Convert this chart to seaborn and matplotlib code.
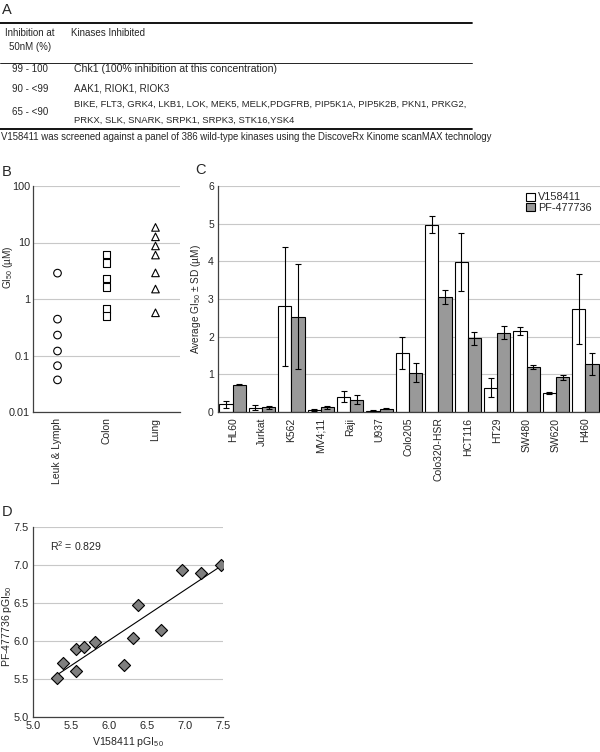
import matplotlib
matplotlib.use("Agg")
import matplotlib.pyplot as plt
import numpy as np
import pandas as pd
import seaborn as sns

# ---- Panel A: kinase selectivity table ----
table_header = ["Inhibition at\n50nM (%)", "Kinases Inhibited"]
inhibition_ranges = ["99 - 100", "90 - <99", "65 - <90"]
kinases_inhibited = [
    ["Chk1 (100% inhibition at this concentration)"],
    ["AAK1, RIOK1, RIOK3"],
    ["BIKE, FLT3, GRK4, LKB1, LOK, MEK5, MELK,PDGFRB, PIP5K1A, PIP5K2B, PKN1, PRKG2,",
     "PRKX, SLK, SNARK, SRPK1, SRPK3, STK16,YSK4"],
]
table_footer = "V158411 was screened against a panel of 386 wild-type kinases using the DiscoveRx Kinome scanMAX technology"

# ---- Panel B: GI50 per tumour type (uM) ----
tumour_types = ["Leuk & Lymph", "Colon", "Lung"]
gi50_leuk = [2.87, 0.44, 0.23, 0.12, 0.066, 0.037]
gi50_colon = [6.1, 4.3, 2.3, 1.64, 0.66, 0.50]
gi50_lung = [18.5, 12.6, 8.7, 6.0, 2.9, 1.5, 0.57]

# ---- Panel C: average GI50 +- SD per cell line ----
cell_lines = ["HL60", "Jurkat", "K562", "MV4;11", "Raji", "U937", "Colo205",
              "Colo320-HSR", "HCT116", "HT29", "SW480", "SW620", "H460"]
compounds = ["V158411", "PF-477736"]
v158411_mean = [0.20, 0.11, 2.81, 0.05, 0.41, 0.035, 1.57, 4.97, 3.98, 0.65, 2.15, 0.50, 2.74]
v158411_sd = [0.09, 0.07, 1.58, 0.02, 0.15, 0.01, 0.43, 0.23, 0.78, 0.25, 0.10, 0.03, 0.93]
pf477736_mean = [0.73, 0.12, 2.53, 0.12, 0.33, 0.09, 1.04, 3.05, 1.96, 2.11, 1.20, 0.92, 1.27]
pf477736_sd = [0.02, 0.05, 1.39, 0.05, 0.11, 0.01, 0.25, 0.18, 0.17, 0.17, 0.06, 0.07, 0.30]

# ---- Panel D: pGI50 correlation ----
v158411_pgi50 = [5.31, 5.40, 5.56, 5.57, 5.67, 5.81, 6.20, 6.31, 6.38, 6.69, 6.96, 7.21, 7.47]
pf477736_pgi50 = [5.51, 5.71, 5.60, 5.89, 5.92, 5.99, 5.68, 6.04, 6.48, 6.14, 6.93, 6.90, 7.00]
r_squared = 0.829

sns.set_theme(style="white")
plt.rcParams["font.family"] = ["Liberation Sans", "DejaVu Sans"]
plt.rcParams["axes.edgecolor"] = "#404040"
plt.rcParams["axes.linewidth"] = 0.9

W, H = 600, 752
fig = plt.figure(figsize=(W / 100, H / 100), dpi=100)


def px_axes(x0, y0, x1, y1):
    """axes from pixel box (top-left origin)"""
    return fig.add_axes([x0 / W, 1 - y1 / H, (x1 - x0) / W, (y1 - y0) / H])


grid_col = "#c8c8c8"
letter_fs = 10.5

# Panel A
ax_a = fig.add_axes([0, 1 - 150 / H, 1, 150 / H])
ax_a.set_xlim(0, W)
ax_a.set_ylim(150, 0)
ax_a.axis("off")
fs_t = 7.0
ax_a.text(2, 10, "A", fontsize=letter_fs, va="center", ha="left")
ax_a.plot([0, 472], [23, 23], color="black", lw=1.3)
ax_a.plot([0, 472], [63, 63], color="black", lw=0.6)
ax_a.plot([0, 472], [129, 129], color="black", lw=1.3)
hdr_lines = table_header[0].split("\n")
ax_a.text(30, 33.5, hdr_lines[0], fontsize=fs_t, ha="center", va="center")
ax_a.text(30, 46.5, hdr_lines[1], fontsize=fs_t, ha="center", va="center")
ax_a.text(71, 33.5, table_header[1], fontsize=fs_t, ha="left", va="center")
row_y = [69.5, 88.5, 112]
row_fs = [7.6, 7.1, 6.8]
for rng, kin, y, fs in zip(inhibition_ranges, kinases_inhibited, row_y, row_fs):
    ax_a.text(30, y, rng, fontsize=fs_t, ha="center", va="center")
    off = -(len(kin) - 1) * 8
    for k, line in enumerate(kin):
        ax_a.text(74, y + off + k * 16, line, fontsize=fs, ha="left", va="center")
ax_a.text(1, 137.5, table_footer, fontsize=6.95, ha="left", va="center")

# Panel B
ax_b = px_axes(33, 186, 180, 412)
df_b = pd.DataFrame({
    "tumour": [tumour_types[0]] * len(gi50_leuk) + [tumour_types[1]] * len(gi50_colon)
    + [tumour_types[2]] * len(gi50_lung),
    "gi50": gi50_leuk + gi50_colon + gi50_lung,
})
sns.scatterplot(data=df_b, x="tumour", y="gi50", style="tumour",
                markers={"Leuk & Lymph": "o", "Colon": "s", "Lung": "^"},
                color="white", edgecolor="black", linewidth=0.8, s=30,
                legend=False, ax=ax_b, zorder=3)
ax_b.set_yscale("log")
ax_b.set_ylim(0.01, 100)
ax_b.set_xlim(-0.5, 2.5)
ax_b.set_yticks([0.01, 0.1, 1, 10, 100])
ax_b.set_yticklabels(["0.01", "0.1", "1", "10", "100"])
ax_b.yaxis.set_minor_locator(matplotlib.ticker.NullLocator())
ax_b.yaxis.grid(True, color=grid_col, lw=0.8)
ax_b.tick_params(axis="both", length=0, labelsize=7.8, pad=2)
ax_b.tick_params(axis="x", rotation=90, labelsize=7.5, pad=4)
ax_b.set_xlabel("")
ax_b.set_ylabel("GI$_{\\mathregular{50}}$ (µM)", fontsize=7.2)
ax_b.yaxis.set_label_coords(-0.125, 0.64)
sns.despine(ax=ax_b)
fig.text(2 / W, 1 - 172 / H, "B", fontsize=letter_fs, va="center", ha="left")

# Panel C
ax_c = px_axes(218, 186, 600, 412)
df_c = pd.DataFrame({
    "cell": cell_lines * 2,
    "compound": [compounds[0]] * len(cell_lines) + [compounds[1]] * len(cell_lines),
    "gi50": v158411_mean + pf477736_mean,
})
sns.barplot(data=df_c, x="cell", y="gi50", hue="compound",
            palette=["white", "#999999"], edgecolor="black", linewidth=0.8,
            width=0.9, errorbar=None, ax=ax_c, zorder=2)
for cont, sds in zip(ax_c.containers, [v158411_sd, pf477736_sd]):
    xs = [b.get_x() + b.get_width() / 2 for b in cont]
    ys = [b.get_height() for b in cont]
    ax_c.errorbar(xs, ys, yerr=sds, fmt="none", ecolor="black", elinewidth=0.8,
                  capsize=2.2, capthick=0.8, zorder=3)
ax_c.set_ylim(0, 6)
ax_c.set_xlim(-0.5, len(cell_lines) - 0.5)
ax_c.set_yticks(range(0, 7))
ax_c.yaxis.grid(True, color=grid_col, lw=0.8, zorder=0)
ax_c.set_axisbelow(True)
ax_c.tick_params(axis="both", length=0, labelsize=7.5, pad=3)
ax_c.tick_params(axis="x", rotation=90, pad=4)
ax_c.set_xlabel("")
ax_c.set_ylabel("Average GI$_{\\mathregular{50}}$ ± SD (µM)", fontsize=7.3)
ax_c.yaxis.set_label_coords(-0.04, 0.5)
ax_c.legend(loc="upper right", frameon=False, fontsize=7.8, handlelength=0.8,
            handleheight=0.8, handletextpad=0.3, labelspacing=0.05,
            borderaxespad=0.2, bbox_to_anchor=(0.995, 1.0))
sns.despine(ax=ax_c)
fig.text(195 / W, 1 - 170 / H, "C", fontsize=letter_fs, va="center", ha="left")

# Panel D
ax_d = px_axes(33, 527, 223, 717)
sns.regplot(x=v158411_pgi50, y=pf477736_pgi50, ci=None, marker="D", ax=ax_d,
            scatter_kws={"s": 38, "facecolor": "#7f7f7f", "edgecolor": "black",
                         "linewidths": 0.8, "zorder": 3, "alpha": 1},
            line_kws={"color": "black", "lw": 0.8, "zorder": 2})
ax_d.set_xlim(5.0, 7.5)
ax_d.set_ylim(5.0, 7.5)
ticks_d = np.arange(5.0, 7.51, 0.5)
ax_d.set_xticks(ticks_d)
ax_d.set_yticks(ticks_d)
ax_d.set_xticklabels([f"{t:.1f}" for t in ticks_d])
ax_d.set_yticklabels([f"{t:.1f}" for t in ticks_d])
ax_d.yaxis.grid(True, color=grid_col, lw=0.8, zorder=0)
ax_d.set_axisbelow(True)
ax_d.tick_params(axis="both", length=0, labelsize=7.9, pad=3)
ax_d.set_xlabel("V158411 pGI$_{\\mathregular{50}}$", fontsize=7.6, labelpad=3)
ax_d.set_ylabel("PF-477736 pGI$_{\\mathregular{50}}$", fontsize=7.6)
ax_d.yaxis.set_label_coords(-0.1, 0.48)
ax_d.text(5.22, 7.25, "R$^{\\mathregular{2}}$ = " + f"{r_squared:.3f}", fontsize=7.6,
          va="center", ha="left")
sns.despine(ax=ax_d)
fig.text(2 / W, 1 - 512 / H, "D", fontsize=letter_fs, va="center", ha="left")

fig.savefig("out.png", dpi=100)
